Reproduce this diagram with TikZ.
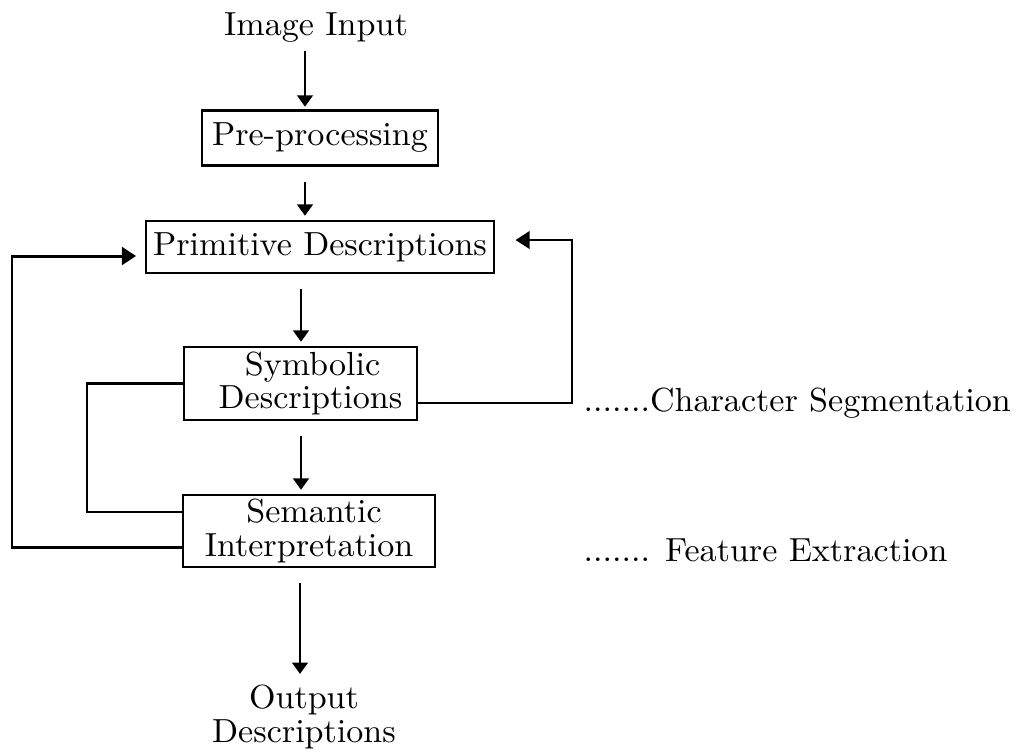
\documentclass[tikz,border=0pt]{standalone}
\usepackage{graphicx}
\usetikzlibrary{arrows.meta,calc}
% the typeface of this chart is set a touch wider than Latin Modern
\newcommand{\stxt}[1]{\scalebox{1.02}[1]{#1}}
\begin{document}
\begin{tikzpicture}[x=0.01cm,y=-0.01cm,
  lbl/.style={font=\fontsize{9.5}{9.6}\selectfont, inner sep=0pt, align=center},
  box/.style={lbl, draw, line width=0.6pt},
  arr/.style={line width=0.45pt, -{Triangle[width=4.5pt,length=3.2pt]}},
  flow/.style={arr, shorten <=4.3pt, shorten >=1.2pt},
  fb/.style={line width=0.6pt},
  fbthick/.style={line width=0.85pt, -{Triangle[width=5pt,length=4pt]}}]
\useasboundingbox[fill=white] (0,0) rectangle (1024,753);

% processing chain
\node[lbl] (in) at (316,28) {\stxt{Image Input}};
\node[box, minimum width=2.36cm, minimum height=0.55cm] (pre) at (320,138) {\stxt{Pre-processing}};
\node[box, minimum width=3.48cm, minimum height=0.52cm] (prim) at (320,247) {\stxt{Primitive Descriptions}};
\node[box, minimum width=2.33cm, minimum height=0.73cm] (sym) at (300.5,383.5)
  {\hspace*{0.24cm}\stxt{Symbolic}\\\hspace*{0.2cm}\stxt{Descriptions}};
\node[box, minimum width=2.52cm, minimum height=0.72cm] (sem) at (309,531)
  {\hspace*{0.1cm}\stxt{Semantic}\\\stxt{Interpretation}};
\node[lbl] (out) at (304,717) {\stxt{Output}\\\stxt{Descriptions}};

% side notes
\node[lbl, anchor=west] (seg) at (583,403) {\stxt{.......Character Segmentation}};
\node[lbl, anchor=west] (fe) at (583,550) {\stxt{....... Feature Extraction}};

% downward arrows
\coordinate (colA) at (305,0);
\coordinate (colB) at (301,0);
\coordinate (colC) at (300,0);
\draw[arr, shorten <=2pt, shorten >=0.8pt] (in.south -| colA) -- (pre.north -| colA);
\draw[flow] (pre.south -| colA) -- (prim.north -| colA);
\draw[flow] (prim.south -| colB) -- (sym.north -| colB);
\draw[flow] (sym.south -| colB) -- (sem.north -| colB);
\draw[flow, shorten >=3pt] (sem.south -| colC) -- (out.north -| colC);

% feedback loops
\coordinate (loopA) at (87,512);
\draw[fb] (sym.west) -| (loopA) -- (sem.west |- loopA);

\coordinate (loopB) at (12,547);
\coordinate (loopC) at (12,256);
\draw[fbthick, shorten >=2.5pt] (sem.west |- loopB) -- (loopB) -- (loopC) -- (prim.west |- loopC);

\coordinate (loopD) at (572,403);
\coordinate (loopE) at (572,240);
\draw[fbthick, line width=0.6pt, shorten >=5.8pt] (sym.east |- loopD) -- (loopD) -- (loopE) -- (prim.east |- loopE);
\end{tikzpicture}
\end{document}
